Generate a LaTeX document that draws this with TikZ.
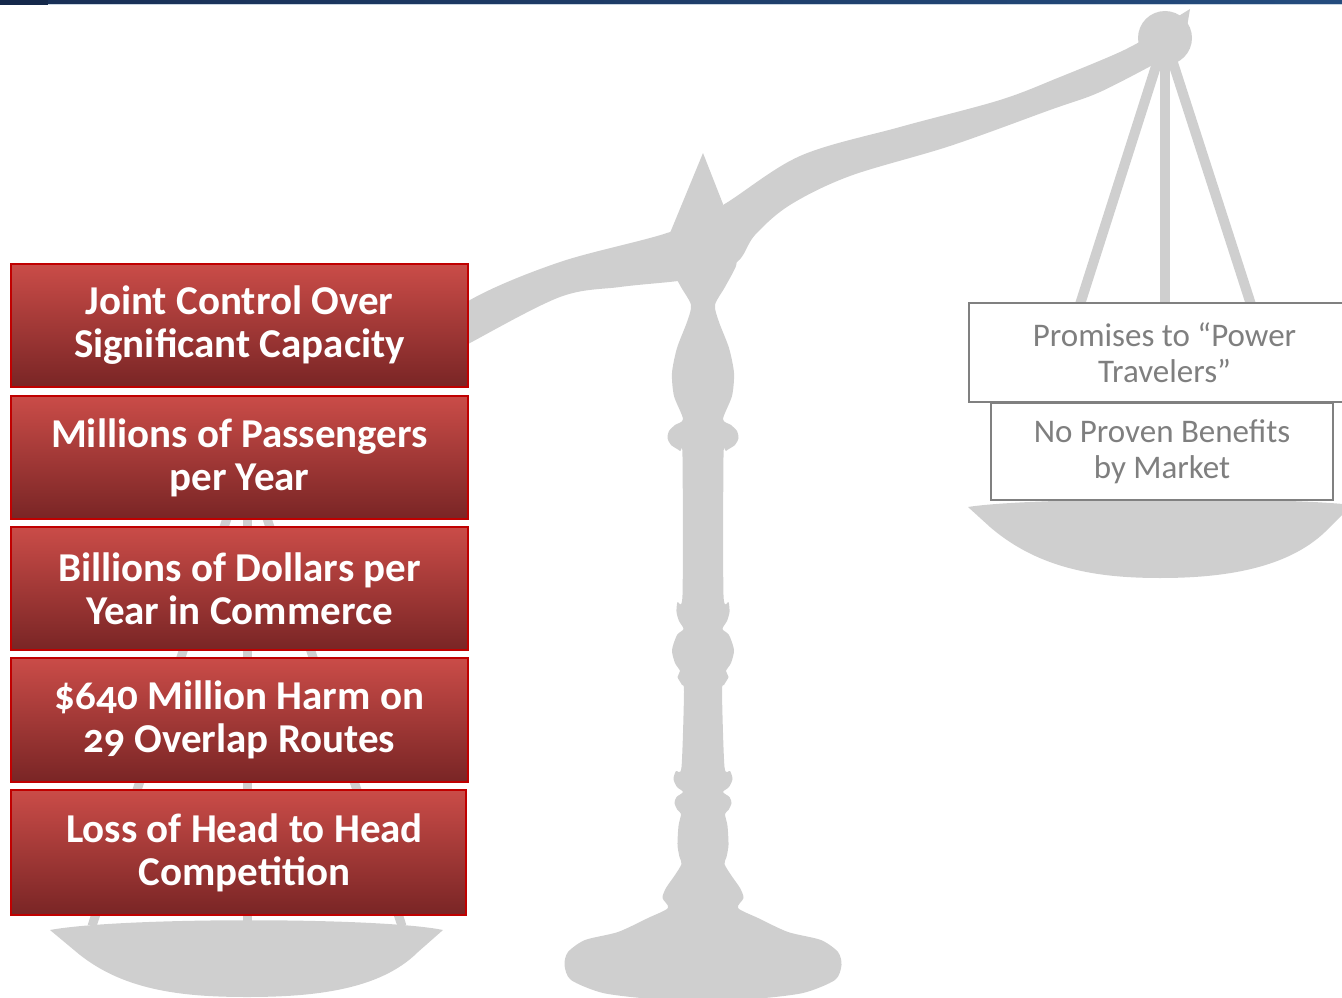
\documentclass[tikz,border=0pt]{standalone}
\usepackage{fontspec}
\setmainfont{Carlito}[Numbers=OldStyle]
\definecolor{scalegray}{RGB}{207,207,207}
\definecolor{boxred}{RGB}{192,0,0}
\definecolor{redtop}{RGB}{202,76,72}
\definecolor{redbot}{RGB}{121,37,37}
\definecolor{navyA}{RGB}{24,46,84}
\definecolor{navyB}{RGB}{36,76,126}
\definecolor{navyC}{RGB}{20,40,74}
\definecolor{rule}{RGB}{200,212,225}
\definecolor{greytext}{RGB}{127,127,127}
\definecolor{greyline}{RGB}{128,128,128}
\begin{document}
\begin{tikzpicture}[x=1pt,y=-1pt,
  silhouette/.style={fill=scalegray},
  cord/.style={draw=scalegray,line width=10pt},
  redbox/.style={draw=boxred,line width=2pt,top color=redtop,bottom color=redbot,
    text=white,align=center,inner sep=0pt,
    font=\fontsize{41}{43}\selectfont\bfseries},
  whitebox/.style={draw=greyline,line width=2pt,fill=white,text=greytext,
    align=center,inner sep=0pt,font=\fontsize{33}{35.5}\selectfont}]
\useasboundingbox (0,0) rectangle (1342,998);

% header rule
\shade[left color=navyA,right color=navyB] (0,0) rectangle (1342,3.5);
\fill[navyC] (0,0) rectangle (48,5);
\draw[rule,line width=1pt] (48,4.5) -- (1342,4.5);

% left pan hub and cords (mostly hidden behind the boxes)
\coordinate (lhub) at (247,458);
\coordinate (lpanL) at (92,926);
\coordinate (lpanC) at (247,926);
\coordinate (lpanR) at (402,926);
\draw[cord,line width=9pt] (lhub) -- (lpanL);
\draw[cord,line width=9pt] (lhub) -- (lpanC);
\draw[cord,line width=9pt] (lhub) -- (lpanR);

% left pan
\fill[silhouette] (50,930) -- (74,950) .. controls (120,990) and (180,997) .. (247,997)
  .. controls (314,997) and (380,990) .. (418,952) -- (443,930)
  .. controls (380,917) and (120,917) .. (50,930) -- cycle;

% right pan hub and cords
\coordinate (rhub) at (1165,38);
\coordinate (rpanL) at (1075,320);
\coordinate (rpanC) at (1165,320);
\coordinate (rpanR) at (1256,320);
\draw[cord] (rhub) -- (rpanL);
\draw[cord] (rhub) -- (rpanC);
\draw[cord] (rhub) -- (rpanR);

% right pan
\fill[silhouette] (968,507) -- (990,527) .. controls (1040,570) and (1100,578) .. (1160,578)
  .. controls (1220,578) and (1290,570) .. (1330,527) -- (1352,505)
  .. controls (1290,497) and (1030,497) .. (968,507) -- cycle;

% beam
\fill[silhouette] plot[smooth,tension=0.55] coordinates {(400,352) (470,300) (560,262) (670,232) (723,205) (800,156) (900,127) (1000,100) (1060,77) (1120,52) (1150,36)}
  -- plot[smooth,tension=0.55] coordinates {(1162,60) (1100,92) (1050,110) (950,146) (850,176) (790,205) (755,235) (737,262) (700,276) (678,281) (620,287) (560,297) (470,343) (420,372)}
  -- cycle;

% pointer
\fill[silhouette] (670,233) -- (703,153) -- (723,204) -- (712,245) -- cycle;

% pillar and foot, built from one half and its mirror image
\foreach \s in {1,-1}{
  \begin{scope}[shift={(703,0)},xscale=\s]
    \fill[silhouette] plot[smooth,tension=0.45] coordinates {(34,252) (33,266) (22,287) (12,305) (16,322) (26,348) (31,373) (29,396) (20,419) (28,425) (34,431) (35.5,438) (32,445) (23,451) (20.5,457) (20.5,595) (25.5,602) (26.5,612) (24,621) (19.5,629) (26,635) (31,650) (28,663) (23,671) (25.5,677) (21,685) (19,692) (21.5,767) (27,771) (29.5,779) (26,787) (20,792) (26.5,797) (28.5,803) (25.5,810) (22,814) (24.5,826) (25.5,845) (23.5,857) (21.5,864) (28,875) (37,888) (40.5,898) (35,908) (55,918) (85,932) (118,940) (135,952) (138.5,965) (132,980) (100,993) (50,999) (-2,1000)}
      -- (-2,252) -- cycle;
  \end{scope}
}

% top hub with its small spike
\fill[silhouette] (rhub) circle[radius=27];
\fill[silhouette] (1177,17) -- (1190,9) -- (1187,27) -- cycle;

% left column
\node[redbox,minimum width=457,minimum height=123] (b1) at (239.5,325.5) {Joint Control Over\\Significant Capacity};
\node[redbox,minimum width=457,minimum height=123] (b2) at (239.5,457.5) {Millions of Passengers\\per Year};
\node[redbox,minimum width=457,minimum height=123] (b3) at (239.5,588.5) {Billions of Dollars per\\Year in Commerce};
\node[redbox,minimum width=457,minimum height=124] (b4) at (239.5,720) {\$640 Million Harm on\\29 Overlap Routes};
\node[redbox,minimum width=455,minimum height=125] (b5) at (238.5,852.5) {\hspace*{12pt}Loss of Head to Head\\\hspace*{12pt}Competition};

% right column
\node[whitebox,minimum width=391,minimum height=99] (w1) at (1164.5,352.5) {Promises to “Power\\Travelers”};
\node[whitebox,minimum width=342,minimum height=97] (w2) at (1162,451.5) {No Proven Benefits\\by Market};
\end{tikzpicture}
\end{document}
